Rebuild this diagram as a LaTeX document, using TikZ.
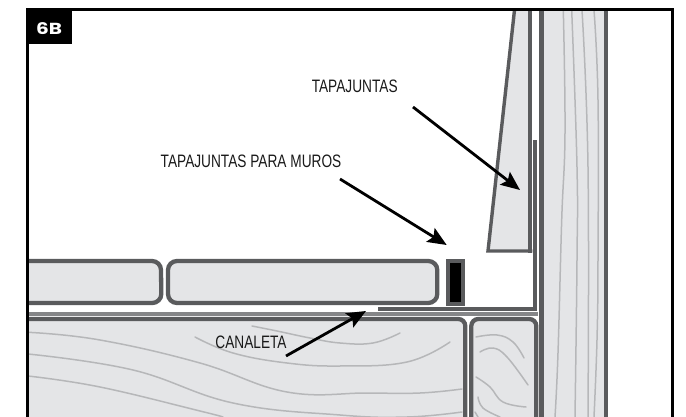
\documentclass[tikz,border=0pt]{standalone}
\usepackage{fontspec}
\setmainfont{Liberation Sans}
\newfontfamily\condfont[FakeStretch=0.76]{Liberation Sans}
\newfontfamily\badgefont[FakeStretch=1.25]{Poppins}
\usetikzlibrary{arrows.meta}
\definecolor{woodfill}{HTML}{E4E5E7}
\definecolor{edge}{HTML}{5A5B5D}
\definecolor{grain}{HTML}{B6B7B9}
\definecolor{band}{HTML}{858688}
\tikzset{
  part/.style={draw=edge,fill=woodfill,line width=4.3pt,line join=miter},
  edgeline/.style={draw=edge,line width=4.3pt},
  fillonly/.style={fill=woodfill,draw=none},
  grainline/.style={draw=grain,line width=1.5pt,line cap=round,smooth,tension=0.7},
  callout/.style={font=\condfont\fontsize{18}{19}\selectfont,text=black!90,inner sep=0pt,anchor=center},
  pointer/.style={draw=black,line width=2.8pt,-{Stealth[length=19pt,width=16pt,inset=3.5pt]}},
  framing/.style={draw=black,line width=2.4pt},
}
\begin{document}
\begin{tikzpicture}[x=1pt,y=-1pt]
\useasboundingbox (0,0) rectangle (686,417);
% vertical post
\fill[woodfill] (541.5,10) rectangle (606.3,417);
\foreach \c in {
 {(563.3,10)(565,133)(561.7,220)(558,353)(555,417)},
 {(571.7,10)(577,167)(577,260)(575,417)},
 {(582,10)(588,167)(588,417)},
 {(594,10)(598,100)(598,260)(597,340)(594,417)}}{
  \draw[grainline] plot coordinates \c;
}
\draw[edgeline] (541.5,10) -- (541.5,417);
\draw[edgeline] (606.3,10) -- (606.3,417);
% wedge
\fill[woodfill] (514.5,10) -- (530.3,10) -- (530.3,251) -- (488,251) -- cycle;
\draw[edge,line width=3.4pt,line join=miter] (514.5,10) -- (488,251) -- (532.3,251);
\draw[edgeline] (530.3,10) -- (530.3,253);
% flashing
\draw[edgeline,line join=miter] (378.3,309) -- (535.3,309) -- (535.3,140);
\fill[band] (27,312) rectangle (537.5,316.2);
% boards
\fill[fillonly] (27,261) -- (152,261) arc[start angle=-90,end angle=0,radius=9] -- (161.3,294) arc[start angle=0,end angle=90,radius=9] -- (27,303) -- cycle;
\draw[edgeline] (27,261) -- (152,261) arc[start angle=-90,end angle=0,radius=9] -- (161.3,294) arc[start angle=0,end angle=90,radius=9] -- (27,303);
\draw[part,rounded corners=9pt] (168,261) rectangle (437.3,303);
% strip
\draw[draw=edge,fill=black,line width=4.3pt] (447.8,261) rectangle (463,303.7);
% big beam
\fill[woodfill] (27,319) -- (458.3,319) arc[start angle=-90,end angle=0,radius=7] -- (465.3,417) -- (27,417) -- cycle;
\draw[grainline] plot coordinates {(28,332.3)(100,340)(200,363)(287,392)(367,393)(420,393)(462,389)};
\draw[grainline] plot coordinates {(28,354)(133,370)(233,403)(340,415)(407,417)(462,412)};
\draw[grainline] plot coordinates {(28,376)(100,387)(200,411)(223,417)};
\draw[grainline] plot coordinates {(195,337)(233,353)(287,363)(340,366)(407,362)(450,342)};
\draw[grainline] plot coordinates {(252,326)(277,331)(310,338)(340,343)(373,343)(400,333)};
\draw[edgeline] (27,319) -- (458.3,319) arc[start angle=-90,end angle=0,radius=7] -- (465.3,417);
% small beam
\fill[woodfill] (471.3,417) -- (471.3,326) arc[start angle=180,end angle=270,radius=7] -- (529.3,319) arc[start angle=-90,end angle=0,radius=7] -- (536.3,417) -- cycle;
\draw[grainline] plot coordinates {(476,337)(497,335)(513,342)(524,358)};
\draw[grainline] plot coordinates {(480,352)(493,348)(507,357)(528,385)};
\draw[grainline] plot coordinates {(476,377)(490,387)(503,402)(526,407)};
\draw[grainline] plot coordinates {(478,397)(483,408)(500,417)};
\draw[grainline] plot coordinates {(475,412)(478,417)};
\draw[edgeline] (471.3,417) -- (471.3,326) arc[start angle=180,end angle=270,radius=7] -- (529.3,319) arc[start angle=-90,end angle=0,radius=7] -- (536.3,417);
% frame
\draw[framing] (27.5,417) -- (27.5,9.7) -- (672.5,9.7) -- (672.5,417);
\node[fill=black,minimum width=46pt,minimum height=36pt,inner sep=0pt,anchor=north west] (badge) at (26,8) {};
\node[text=white,inner sep=0pt,font=\badgefont\bfseries\fontsize{16}{17}\selectfont] (badgetext) at (49,29) {6B};
% labels
\node[callout] (lflash) at (354.7,86.7) {TAPAJUNTAS};
\node[callout] (lwall) at (251,161) {TAPAJUNTAS PARA MUROS};
\node[callout] (lgutter) at (251,342.7) {CANALETA};
% arrows
\coordinate (aflashs) at (413,107);
\coordinate (aflashe) at (520,190);
\coordinate (awalls) at (340,179);
\coordinate (awalle) at (446.7,245);
\coordinate (agutters) at (286,356);
\coordinate (aguttere) at (366,311);
\draw[pointer] (aflashs) -- (aflashe);
\draw[pointer] (awalls) -- (awalle);
\draw[pointer] (agutters) -- (aguttere);
\end{tikzpicture}
\end{document}
